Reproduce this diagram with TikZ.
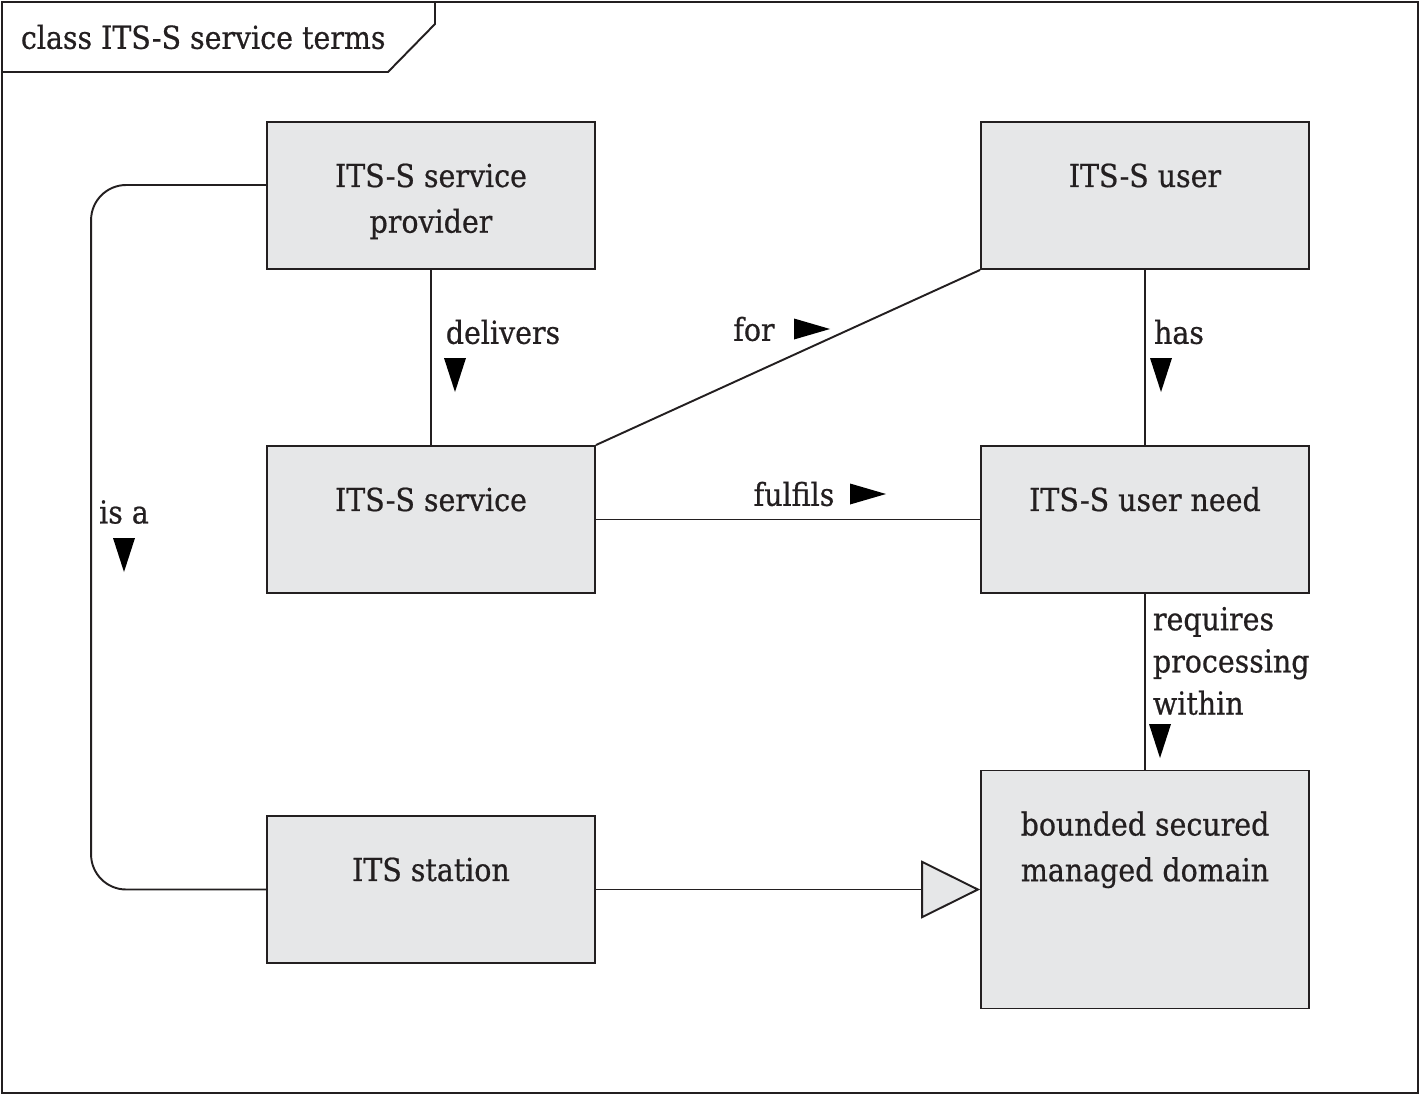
\documentclass[tikz,border=0pt]{standalone}
\usepackage{fontspec}
\setmainfont{DejaVu Serif Condensed}[FakeBold=0.6]
\usetikzlibrary{arrows.meta}
\definecolor{boxgray}{HTML}{E6E7E8}
\definecolor{ink}{HTML}{231F20}
\newcommand{\umlname}[2]{\parbox[c][#1][t]{6.4cm}{\centering\vspace*{0.66cm}\strut #2}}
\begin{document}
\begin{tikzpicture}[x=0.02cm,y=-0.02cm,line width=1.1pt,draw=ink,text=ink,>=latex]
\tikzset{
  classbox/.style={draw,fill=boxgray,shape=rectangle,inner sep=0pt,minimum width=6.56cm,font=\fontsize{18}{26}\selectfont},
  lbl/.style={font=\fontsize{18}{24}\selectfont,inner sep=0pt},
  downtri/.pic={\fill[black] (-11,-17) -- (11,-17) -- (0,17) -- cycle;},
  righttri/.pic={\fill[black] (-18,-10.5) -- (-18,10.5) -- (18,0) -- cycle;}
}
\useasboundingbox (0,0) rectangle (1420,1095);
% frame and name tab
\draw (2,2) rectangle (1418,1093);
\draw (435,2) -- (435,24) -- (388,72) -- (2,72);
\node[lbl,anchor=west] (title) at (20,37) {class ITS-S service terms};
% classes
\node[classbox] (provider) at (431,195.5) {\umlname{2.94cm}{ITS-S service\\provider}};
\node[classbox] (user) at (1145,195.5) {\umlname{2.94cm}{ITS-S user}};
\node[classbox] (service) at (431,519.5) {\umlname{2.94cm}{ITS-S service}};
\node[classbox] (need) at (1145,519.5) {\umlname{2.94cm}{ITS-S user need}};
\node[classbox] (station) at (431,889.5) {\umlname{2.94cm}{ITS station}};
\node[classbox] (domain) at (1145,889.5) {\umlname{4.76cm}{bounded secured\\managed domain}};
% associations
\draw (provider) -- (service);
\node[lbl] (delivers) at (503,332) {delivers};
\pic at (455,375) {downtri};
\draw (user) -- (need);
\node[lbl] (has) at (1179,332) {has};
\pic at (1161,375) {downtri};
\draw (service.north east) -- (user.south west);
\node[lbl] (for) at (754,329) {for};
\pic at (812,329) {righttri};
\draw (service) -- (need);
\node[lbl] (fulfils) at (794,494) {fulfils};
\pic at (868,494) {righttri};
\draw (need) -- (domain);
\node[lbl,anchor=north west,align=left] (requires) at (1152,606) {requires\\processing\\within};
\pic at (1160,741) {downtri};
\draw[rounded corners=20] ([yshift=0.21cm]provider.west) -- ++(-175,0) |- (station.west);
\node[lbl] (isa) at (124,512) {is a};
\pic at (124,555) {downtri};
% generalization
\draw[-{Triangle[open,fill=boxgray,length=1.18cm,width=1.16cm]}] (station) -- (domain);
\end{tikzpicture}
\end{document}
